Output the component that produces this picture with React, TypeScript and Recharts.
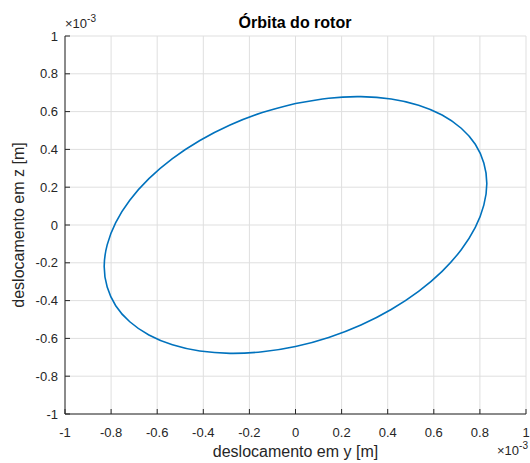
import React from "react";
import { LineChart, Line, XAxis, YAxis, CartesianGrid } from "recharts";

// Orbit values, in units of 1e-3 m
const orbitY = [
  0, -0.144, -0.284, -0.415, -0.534, -0.636, -0.719, -0.78, -0.817, -0.83,
  -0.817, -0.78, -0.719, -0.636, -0.534, -0.415, -0.284, -0.144, 0, 0.144,
  0.284, 0.415, 0.534, 0.636, 0.719, 0.78, 0.817, 0.83, 0.817, 0.78, 0.719,
  0.636, 0.534, 0.415, 0.284, 0.144, 0,
];
const orbitZ = [
  0.643, 0.595, 0.529, 0.447, 0.351, 0.245, 0.131, 0.013, -0.105, -0.22,
  -0.328, -0.427, -0.512, -0.582, -0.634, -0.667, -0.679, -0.671, -0.643,
  -0.595, -0.529, -0.447, -0.351, -0.245, -0.131, -0.013, 0.105, 0.22, 0.328,
  0.427, 0.512, 0.582, 0.634, 0.667, 0.679, 0.671, 0.643,
];
const axisTicks = [-1, -0.8, -0.6, -0.4, -0.2, 0, 0.2, 0.4, 0.6, 0.8, 1];

const title = "Órbita do rotor";
const xLabel = "deslocamento em y [m]";
const yLabel = "deslocamento em z [m]";

const data = orbitY.map((y, i) => ({ y, z: orbitZ[i] }));

const FONT = "'Liberation Sans', Arial, Helvetica, sans-serif";
const AXIS_COLOR = "#262626";
const TICK_FONT = 13;

export default function App() {
  const tickStyle = { fontSize: TICK_FONT, fill: AXIS_COLOR, fontFamily: FONT };
  return (
    <div style={{ position: "absolute", left: 0, top: 0, width: 530, height: 463, background: "#fff" }}>
      <LineChart
        width={530}
        height={463}
        data={data}
        margin={{ top: 36, right: 4, bottom: 0, left: 0 }}
      >
        <CartesianGrid stroke="#dfdfdf" strokeWidth={1} horizontalValues={axisTicks} verticalValues={axisTicks} />
        <XAxis
          dataKey="y"
          type="number"
          domain={[-1, 1]}
          ticks={axisTicks}
          allowDataOverflow
          height={49}
          tickSize={-5}
          tickMargin={19}
          stroke={AXIS_COLOR}
          tick={tickStyle}
          interval={0}
        />
        <XAxis
          xAxisId="top"
          orientation="top"
          dataKey="y"
          type="number"
          domain={[-1, 1]}
          ticks={axisTicks}
          allowDataOverflow
          height={0}
          tickSize={-5}
          stroke={AXIS_COLOR}
          tick={false}
          interval={0}
        />
        <YAxis
          dataKey="z"
          type="number"
          domain={[-1, 1]}
          ticks={axisTicks}
          allowDataOverflow
          width={65}
          tickSize={-5}
          tickMargin={12}
          stroke={AXIS_COLOR}
          tick={tickStyle}
          interval={0}
        />
        <YAxis
          yAxisId="right"
          orientation="right"
          type="number"
          domain={[-1, 1]}
          ticks={axisTicks}
          allowDataOverflow
          width={0}
          tickSize={-5}
          stroke={AXIS_COLOR}
          tick={false}
          interval={0}
        />
        <Line
          dataKey="z"
          type="natural"
          stroke="#0072BD"
          strokeWidth={1.6}
          dot={false}
          isAnimationActive={false}
        />
      </LineChart>
      <svg
        width={530}
        height={463}
        style={{ position: "absolute", left: 0, top: 0, pointerEvents: "none" }}
        fontFamily={FONT}
      >
        <text x={295} y={28} textAnchor="middle" fontSize={16} fontWeight="bold" fill="#000">
          {title}
        </text>
        <text x={295.5} y={457} textAnchor="middle" fontSize={16} fill={AXIS_COLOR}>
          {xLabel}
        </text>
        <text
          x={24}
          y={225}
          textAnchor="middle"
          fontSize={16}
          fill={AXIS_COLOR}
          transform="rotate(-90 24 225)"
        >
          {yLabel}
        </text>
        <text x={65} y={28} fontSize={TICK_FONT} fill={AXIS_COLOR}>
          ×10
          <tspan fontSize={10} dy={-6}>-3</tspan>
        </text>
        <text x={497} y={455} fontSize={TICK_FONT} fill={AXIS_COLOR}>
          ×10
          <tspan fontSize={10} dy={-6}>-3</tspan>
        </text>
      </svg>
    </div>
  );
}
